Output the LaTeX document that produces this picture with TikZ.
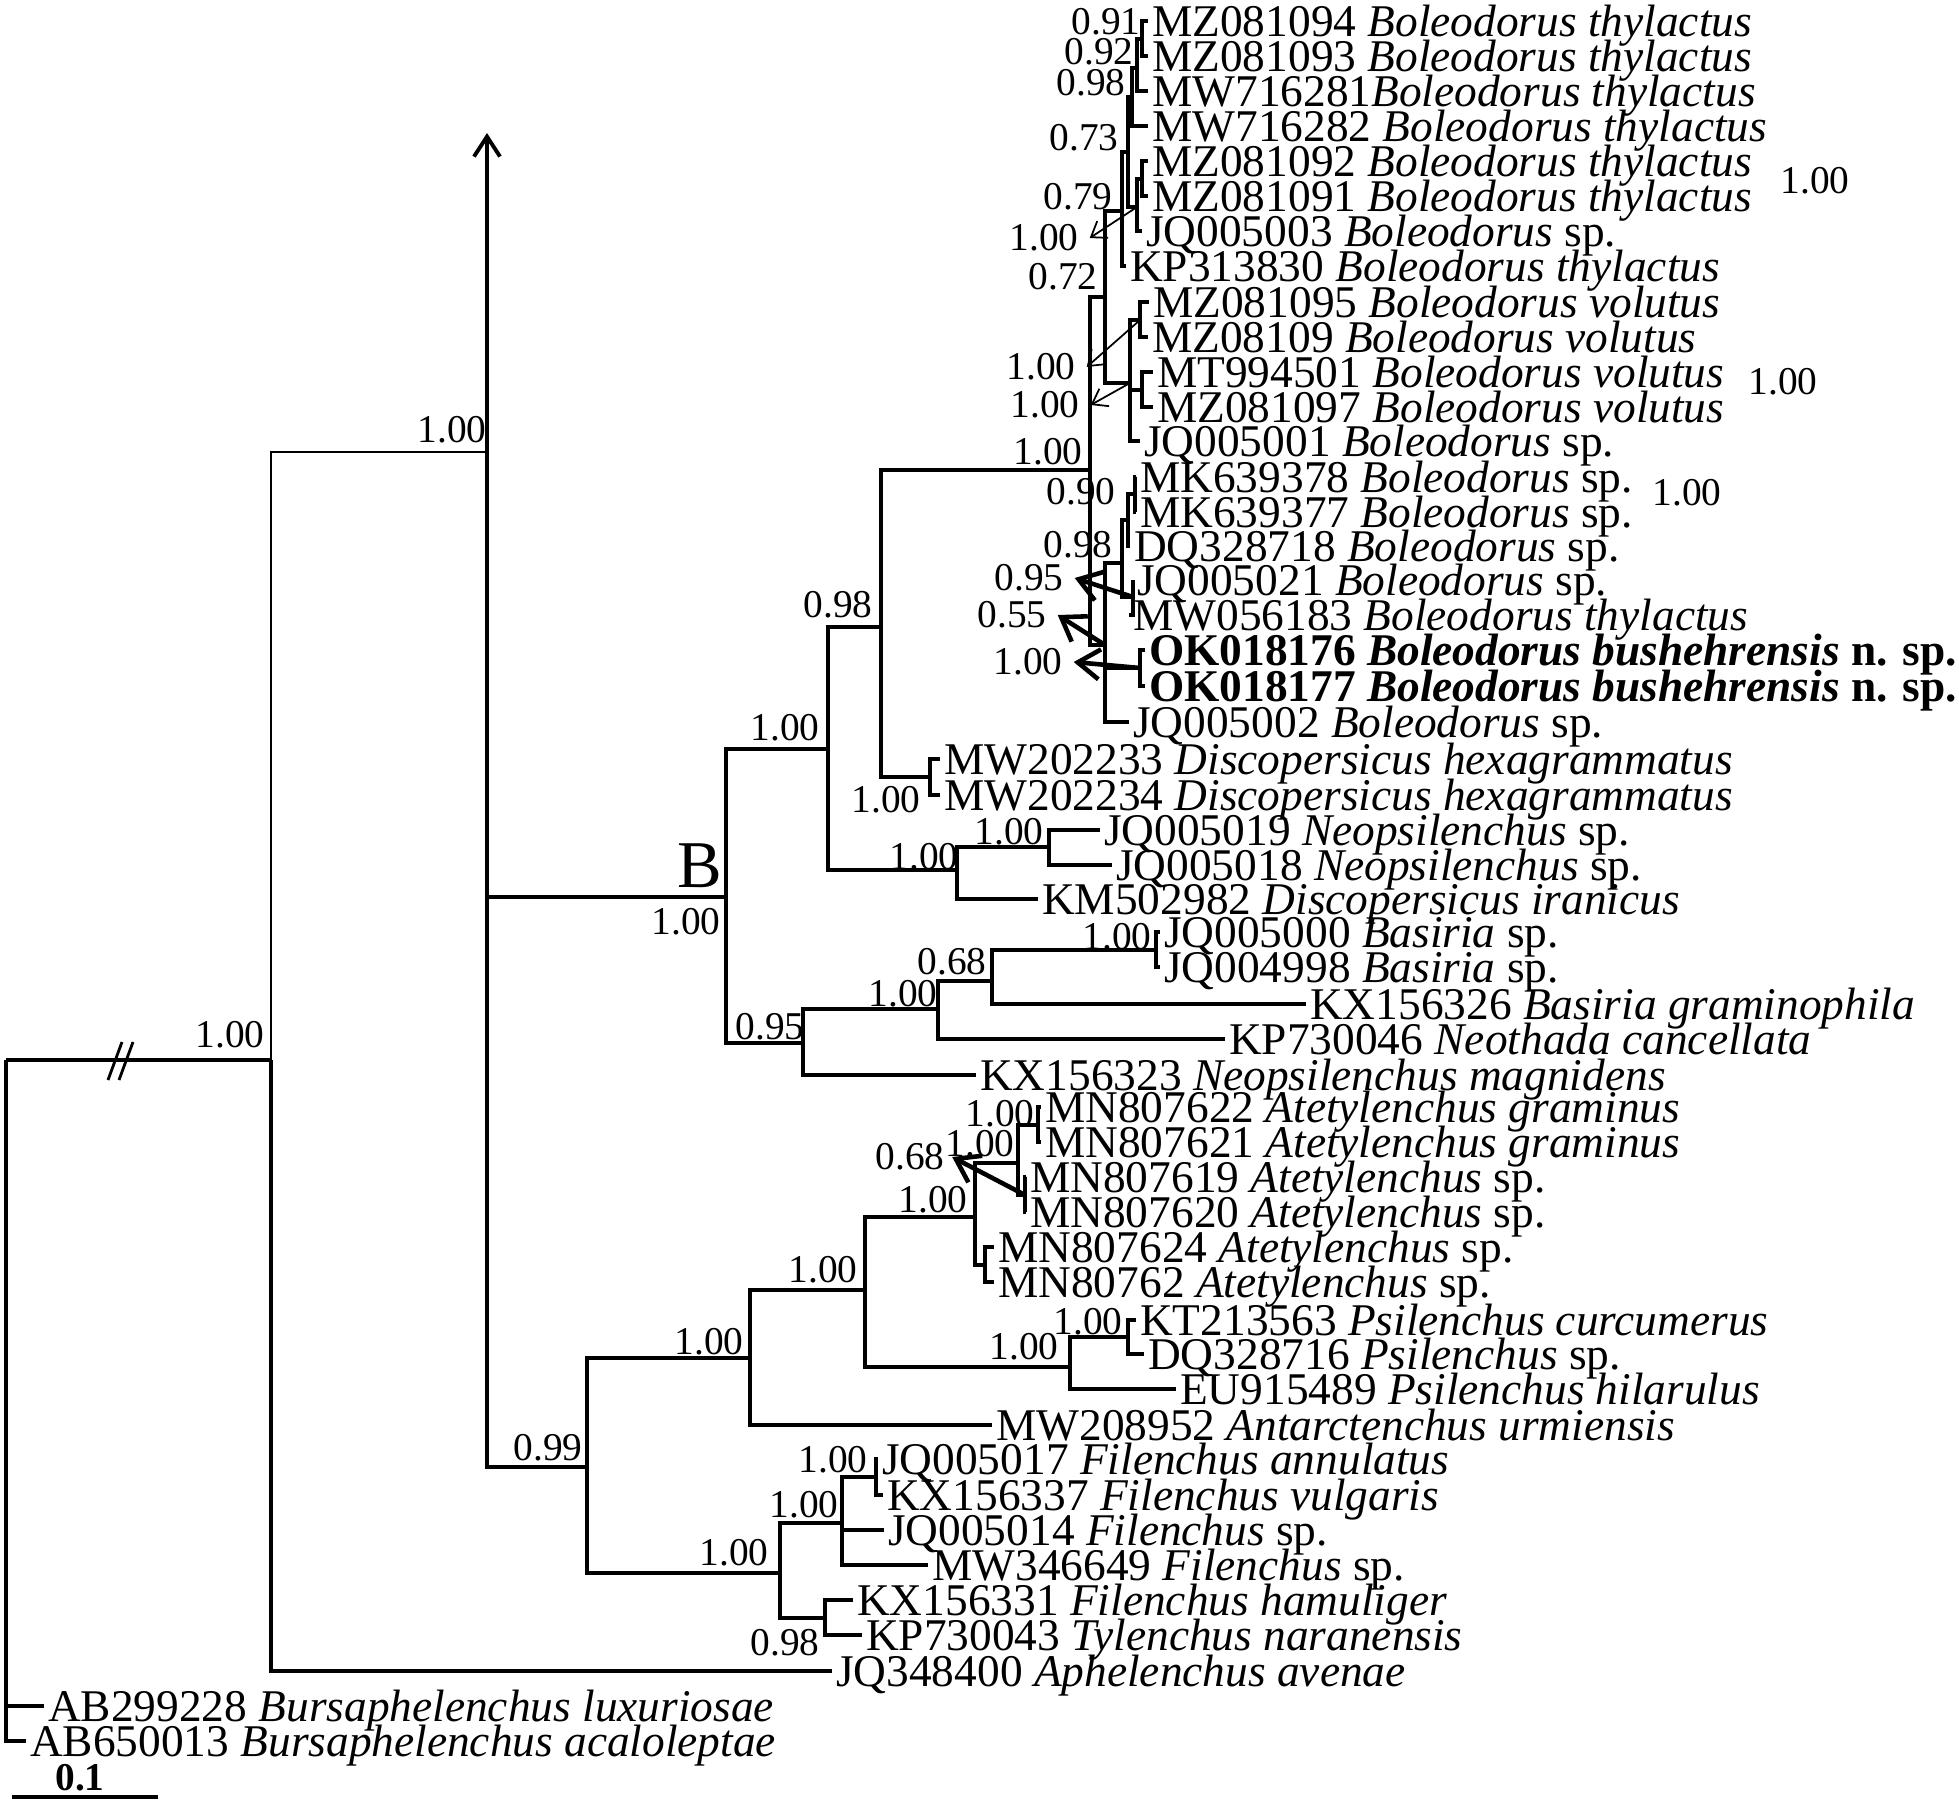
\documentclass[tikz,border=0pt]{standalone}
\usepackage{fontspec}
\setmainfont{Liberation Serif}
\usetikzlibrary{arrows.meta}
\newcommand{\leaffont}{\fontsize{12.9}{14}\selectfont}
\newcommand{\suppfont}{\fontsize{11.2}{12}\selectfont}

\begin{document}
\begin{tikzpicture}[x=0.01cm, y=-0.01cm,
    br/.style={line width=1.1pt},
    thinbr/.style={line width=0.6pt},
    leaf/.style={anchor=west, inner xsep=1pt, inner ysep=0pt, text height=8.6pt, text depth=0pt, font=\leaffont},
    supp/.style={inner sep=0pt, font=\suppfont},
    bigarr/.style={line width=1.3pt, -{Straight Barb[length=2.2mm, width=3mm]}},
    smallarr/.style={line width=0.5pt, -{Straight Barb[length=1.4mm, width=2mm]}}]
    \useasboundingbox (0,0) rectangle (1959,1802);

    % Draw tips
    \node[leaf] (t1) at (1148,21) {MZ081094 \textit{Boleodorus thylactus}};
    \node[leaf] (t2) at (1148,56) {MZ081093 \textit{Boleodorus thylactus}};
    \node[leaf] (t3) at (1148,91) {MW716281\textit{Boleodorus thylactus}};
    \node[leaf] (t4) at (1148,126) {MW716282 \textit{Boleodorus thylactus}};
    \node[leaf] (t5) at (1148,161) {MZ081092 \textit{Boleodorus thylactus}};
    \node[leaf] (t6) at (1148,196) {MZ081091 \textit{Boleodorus thylactus}};
    \node[leaf] (t7) at (1142,231) {JQ005003 \textit{Boleodorus} sp.};
    \node[leaf] (t8) at (1126,266) {KP313830 \textit{Boleodorus thylactus}};
    \node[leaf] (t9) at (1149,302) {MZ081095 \textit{Boleodorus volutus}};
    \node[leaf] (t10) at (1148,337) {MZ08109 \textit{Boleodorus volutus}};
    \node[leaf] (t11) at (1153,372) {MT994501 \textit{Boleodorus volutus}};
    \node[leaf] (t12) at (1153,407) {MZ081097 \textit{Boleodorus volutus}};
    \node[leaf] (t13) at (1140,441) {JQ005001 \textit{Boleodorus} sp.};
    \node[leaf] (t14) at (1136,477) {MK639378 \textit{Boleodorus} sp.};
    \node[leaf] (t15) at (1136,512) {MK639377 \textit{Boleodorus} sp.};
    \node[leaf] (t16) at (1130,546) {DQ328718 \textit{Boleodorus} sp.};
    \node[leaf] (t17) at (1133,580) {JQ005021 \textit{Boleodorus} sp.};
    \node[leaf] (t18) at (1129,615) {MW056183 \textit{Boleodorus thylactus}};
    \node[leaf] (t19) at (1145,650) {\textbf{OK018176 \textit{Boleodorus bushehrensis} n. sp.}};
    \node[leaf] (t20) at (1145,686) {\textbf{OK018177 \textit{Boleodorus bushehrensis} n. sp.}};
    \node[leaf] (t21) at (1129,722) {JQ005002 \textit{Boleodorus} sp.};
    \node[leaf] (t22) at (940,759) {MW202233 \textit{Discopersicus hexagrammatus}};
    \node[leaf] (t23) at (940,795) {MW202234 \textit{Discopersicus hexagrammatus}};
    \node[leaf] (t24) at (1100,830) {JQ005019 \textit{Neopsilenchus} sp.};
    \node[leaf] (t25) at (1112,865) {JQ005018 \textit{Neopsilenchus} sp.};
    \node[leaf] (t26) at (1038,899) {KM502982 \textit{Discopersicus iranicus}};
    \node[leaf] (t27) at (1160,932) {JQ005000 \textit{Basiria} sp.};
    \node[leaf] (t28) at (1160,967) {JQ004998 \textit{Basiria} sp.};
    \node[leaf] (t29) at (1306,1004) {KX156326 \textit{Basiria graminophila}};
    \node[leaf] (t30) at (1225,1039) {KP730046 \textit{Neothada cancellata}};
    \node[leaf] (t31) at (976,1075) {KX156323 \textit{Neopsilenchus magnidens}};
    \node[leaf] (t32) at (1041,1107) {MN807622 \textit{Atetylenchus graminus}};
    \node[leaf] (t33) at (1041,1142) {MN807621 \textit{Atetylenchus graminus}};
    \node[leaf] (t34) at (1026,1177) {MN807619 \textit{Atetylenchus} sp.};
    \node[leaf] (t35) at (1026,1212) {MN807620 \textit{Atetylenchus} sp.};
    \node[leaf] (t36) at (994,1247) {MN807624 \textit{Atetylenchus} sp.};
    \node[leaf] (t37) at (994,1282) {MN80762 \textit{Atetylenchus} sp.};
    \node[leaf] (t38) at (1136,1320) {KT213563 \textit{Psilenchus curcumerus}};
    \node[leaf] (t39) at (1144,1354) {DQ328716 \textit{Psilenchus} sp.};
    \node[leaf] (t40) at (1176,1389) {EU915489 \textit{Psilenchus hilarulus}};
    \node[leaf] (t41) at (992,1425) {MW208952 \textit{Antarctenchus urmiensis}};
    \node[leaf] (t42) at (878,1459) {JQ005017 \textit{Filenchus annulatus}};
    \node[leaf] (t43) at (883,1495) {KX156337 \textit{Filenchus vulgaris}};
    \node[leaf] (t44) at (884,1530) {JQ005014 \textit{Filenchus} sp.};
    \node[leaf] (t45) at (928,1565) {MW346649 \textit{Filenchus} sp.};
    \node[leaf] (t46) at (853,1600) {KX156331 \textit{Filenchus hamuliger}};
    \node[leaf] (t47) at (862,1635) {KP730043 \textit{Tylenchus naranensis}};
    \node[leaf] (t48) at (832,1671) {JQ348400 \textit{Aphelenchus avenae}};
    \node[leaf] (t49) at (44,1706) {AB299228 \textit{Bursaphelenchus luxuriosae}};
    \node[leaf] (t50) at (26,1741) {AB650013 \textit{Bursaphelenchus acaloleptae}};

    % Inner nodes
    \coordinate (nRoot) at (6,1060);
    \coordinate (nA) at (271,1060);
    \coordinate (nZ) at (487,452);
    \coordinate (nTop) at (487,133);
    \coordinate (nB) at (726,897);
    \coordinate (nC) at (828,749);
    \coordinate (nD) at (881,627);
    \coordinate (nDh) at (930,777);
    \coordinate (nE) at (957,870);
    \coordinate (nF) at (1049,847);
    \coordinate (nBas) at (803,1043);
    \coordinate (nG) at (938,1009);
    \coordinate (nH) at (992,981);
    \coordinate (nI) at (1156,950);
    \coordinate (nJ) at (1090,470);
    \coordinate (nV2) at (1105,297);
    \coordinate (nP5) at (1122,211);
    \coordinate (nP4) at (1128,152);
    \coordinate (nP3) at (1132,97);
    \coordinate (nP2) at (1137,68);
    \coordinate (nP1) at (1142,39);
    \coordinate (nQ2) at (1137,207);
    \coordinate (nQ1) at (1142,179);
    \coordinate (nV3) at (1130,383);
    \coordinate (nK) at (1140,320);
    \coordinate (nL) at (1142,390);
    \coordinate (nV4) at (1105,645);
    \coordinate (nV5) at (1122,563);
    \coordinate (nDq) at (1128,520);
    \coordinate (nMk) at (1135,494);
    \coordinate (nJm) at (1133,597);
    \coordinate (nOk) at (1140,668);
    \coordinate (nZeta) at (587,1467);
    \coordinate (nQ) at (750,1358);
    \coordinate (nR) at (865,1290);
    \coordinate (nS) at (975,1217);
    \coordinate (nT) at (1018,1163);
    \coordinate (nV) at (1038,1125);
    \coordinate (nW) at (1025,1195);
    \coordinate (nU) at (985,1265);
    \coordinate (nX) at (1070,1367);
    \coordinate (nY) at (1128,1337);
    \coordinate (nM) at (780,1573);
    \coordinate (nN) at (842,1523);
    \coordinate (nO) at (876,1477);
    \coordinate (nP) at (825,1618);

    % Draw connections
    \draw[br] (nRoot) -- (nA);
    \draw[br] (nRoot) |- (t49.west);
    \draw[br] (nRoot) |- (t50.west);
    \draw[thinbr] (nA) |- (nZ);
    \draw[br] (nA) |- (t48.west);
    \draw[br, -{Straight Barb[length=2mm, width=2.6mm]}] (nZ) -- (nTop);
    \draw[br] (nZ) |- (nB);
    \draw[br] (nZ) |- (nZeta);
    \draw[br] (nB) |- (nC);
    \draw[br] (nB) |- (nBas);
    \draw[br] (nC) |- (nD);
    \draw[br] (nC) |- (nE);
    \draw[br] (nD) |- (nJ);
    \draw[br] (nD) |- (nDh);
    \draw[br] (nDh) |- (t22.west);
    \draw[br] (nDh) |- (t23.west);
    \draw[br] (nE) |- (nF);
    \draw[br] (nE) |- (t26.west);
    \draw[br] (nF) |- (t24.west);
    \draw[br] (nF) |- (t25.west);
    \draw[br] (nBas) |- (nG);
    \draw[br] (nBas) |- (t31.west);
    \draw[br] (nG) |- (nH);
    \draw[br] (nG) |- (t30.west);
    \draw[br] (nH) |- (nI);
    \draw[br] (nH) |- (t29.west);
    \draw[br] (nI) |- (t27.west);
    \draw[br] (nI) |- (t28.west);
    \draw[br] (nJ) |- (nV2);
    \draw[br] (nJ) |- (nV4);
    \draw[br] (nV2) |- (nP5);
    \draw[br] (nV2) |- (nV3);
    \draw[br] (nP5) |- (nP4);
    \draw[br] (nP5) |- (t8.west);
    \draw[br] (nP4) |- (nP3);
    \draw[br] (nP4) |- (nQ2);
    \draw[br] (nP3) |- (nP2);
    \draw[br] (nP3) |- (t4.west);
    \draw[br] (nP2) |- (nP1);
    \draw[br] (nP2) |- (t3.west);
    \draw[br] (nP1) |- (t1.west);
    \draw[br] (nP1) |- (t2.west);
    \draw[br] (nQ2) |- (nQ1);
    \draw[br] (nQ2) |- (t7.west);
    \draw[br] (nQ1) |- (t5.west);
    \draw[br] (nQ1) |- (t6.west);
    \draw[br] (nV3) |- (nK);
    \draw[br] (nV3) |- (nL);
    \draw[br] (nV3) |- (t13.west);
    \draw[br] (nK) |- (t9.west);
    \draw[br] (nK) |- (t10.west);
    \draw[br] (nL) |- (t11.west);
    \draw[br] (nL) |- (t12.west);
    \draw[br] (nV4) |- (nV5);
    \draw[br] (nV4) |- (nOk);
    \draw[br] (nV4) |- (t21.west);
    \draw[br] (nV5) |- (nDq);
    \draw[br] (nV5) |- (nJm);
    \draw[br] (nDq) |- (nMk);
    \draw[br] (nDq) |- (t16.west);
    \draw[br] (nMk) |- (t14.west);
    \draw[br] (nMk) |- (t15.west);
    \draw[br] (nJm) |- (t17.west);
    \draw[br] (nJm) |- (t18.west);
    \draw[br] (nOk) |- (t19.west);
    \draw[br] (nOk) |- (t20.west);
    \draw[br] (nZeta) |- (nQ);
    \draw[br] (nZeta) |- (nM);
    \draw[br] (nQ) |- (nR);
    \draw[br] (nQ) |- (t41.west);
    \draw[br] (nR) |- (nS);
    \draw[br] (nR) |- (nX);
    \draw[br] (nS) |- (nT);
    \draw[br] (nS) |- (nU);
    \draw[br] (nT) |- (nV);
    \draw[br] (nT) |- (nW);
    \draw[br] (nV) |- (t32.west);
    \draw[br] (nV) |- (t33.west);
    \draw[br] (nW) |- (t34.west);
    \draw[br] (nW) |- (t35.west);
    \draw[br] (nU) |- (t36.west);
    \draw[br] (nU) |- (t37.west);
    \draw[br] (nX) |- (nY);
    \draw[br] (nX) |- (t40.west);
    \draw[br] (nY) |- (t38.west);
    \draw[br] (nY) |- (t39.west);
    \draw[br] (nM) |- (nN);
    \draw[br] (nM) |- (nP);
    \draw[br] (nN) |- (nO);
    \draw[br] (nN) |- (t44.west);
    \draw[br] (nN) |- (t45.west);
    \draw[br] (nO) |- (t42.west);
    \draw[br] (nO) |- (t43.west);
    \draw[br] (nP) |- (t46.west);
    \draw[br] (nP) |- (t47.west);

    % Break on the root branch
    \draw[line width=0.8pt] (108,1080) -- (122,1042);
    \draw[line width=0.8pt] (119,1080) -- (133,1042);

    % Labels
    \node[supp] (s1) at (1106,22) {0.91};
    \node[supp] (s2) at (1099,52) {0.92};
    \node[supp] (s3) at (1091,83) {0.98};
    \node[supp] (s4) at (1084,138) {0.73};
    \node[supp] (s5) at (1078,197) {0.79};
    \node[supp] (s6) at (1044,238) {1.00};
    \node[supp] (s7) at (1063,277) {0.72};
    \node[supp] (s8) at (1041,367) {1.00};
    \node[supp] (s9) at (1045,405) {1.00};
    \node[supp] (s10) at (1048,452) {1.00};
    \node[supp] (s11) at (1081,492) {0.90};
    \node[supp] (s12) at (1078,545) {0.98};
    \node[supp] (s13) at (1029,578) {0.95};
    \node[supp] (s14) at (1012,615) {0.55};
    \node[supp] (s15) at (1028,662) {1.00};
    \node[supp] (s16) at (1815,181) {1.00};
    \node[supp] (s17) at (1783,382) {1.00};
    \node[supp] (s18) at (1687,493) {1.00};
    \node[supp] (s19) at (838,605) {0.98};
    \node[supp] (s20) at (785,728) {1.00};
    \node[supp] (s21) at (886,800) {1.00};
    \node[supp] (s22) at (924,857) {1.00};
    \node[supp] (s23) at (1009,832) {1.00};
    \node[inner sep=0pt, font=\fontsize{19}{20}\selectfont] (sB) at (700,866) {B};
    \node[supp] (s24) at (686,922) {1.00};
    \node[supp] (s25) at (452,430) {1.00};
    \node[supp] (s26) at (230,1035) {1.00};
    \node[supp] (s27) at (770,1027) {0.95};
    \node[supp] (s28) at (903,994) {1.00};
    \node[supp] (s29) at (952,962) {0.68};
    \node[supp] (s30) at (1117,937) {1.00};
    \node[supp] (s31) at (548,1448) {0.99};
    \node[supp] (s32) at (709,1342) {1.00};
    \node[supp] (s33) at (823,1270) {1.00};
    \node[supp] (s34) at (933,1200) {1.00};
    \node[supp] (s35) at (910,1157) {0.68};
    \node[supp] (s36) at (980,1144) {1.00};
    \node[supp] (s37) at (1000,1114) {1.00};
    \node[supp] (s38) at (1024,1347) {1.00};
    \node[supp] (s39) at (1088,1322) {1.00};
    \node[supp] (s40) at (734,1553) {1.00};
    \node[supp] (s41) at (804,1505) {1.00};
    \node[supp] (s42) at (833,1460) {1.00};
    \node[supp] (s43) at (785,1643) {0.98};

    % Pointers to the labels
    \draw[smallarr] (nQ2) -- ([xshift=3pt]s6.east);
    \draw[smallarr] (nK) -- ([xshift=3pt]s8.east);
    \draw[smallarr] (nV3) -- ([xshift=3pt]s9.east);
    \draw[bigarr] (nJm) -- ([xshift=3pt]s13.east);
    \draw[bigarr] (nV4) -- ([xshift=3pt]s14.east);
    \draw[bigarr] (nOk) -- ([xshift=3pt]s15.east);
    \draw[bigarr] (nW) -- ([xshift=2pt]s35.east);

    % Scale bar
    \coordinate (sbL) at (12,1797);
    \coordinate (sbR) at (158,1797);
    \draw[line width=1.3pt] (sbL) -- (sbR);
    \node[supp] (sbl) at (80,1778) {\textbf{0.1}};
\end{tikzpicture}
\end{document}
